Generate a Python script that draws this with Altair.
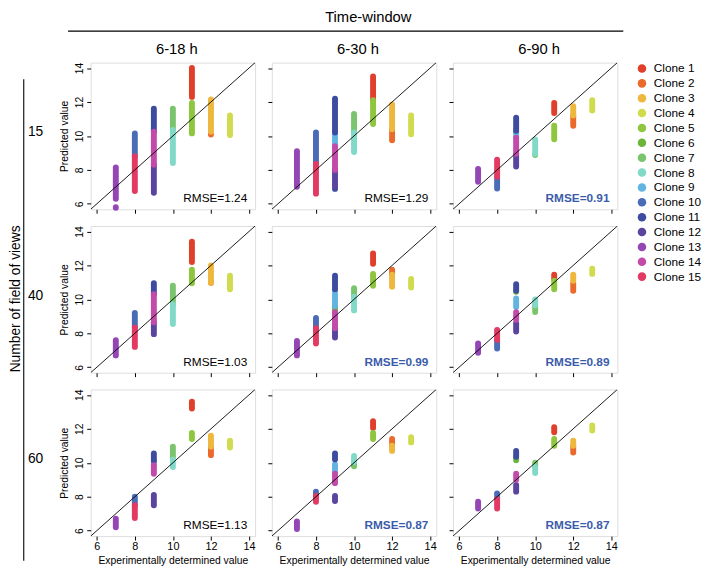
import altair as alt
import pandas as pd

# ---------------- data ----------------
CLONES = [f"Clone {i}" for i in range(1, 16)]
COLORS = ["#E03F2C", "#EA6A2C", "#EEB73E", "#D0DB4E", "#8EC63D", "#6CB53B", "#79C46C",
          "#82D9C8", "#61B5E0", "#4A6CB6", "#3E4CA0", "#5A44A0", "#9446B5", "#C24AA8", "#E23A63"]
EXPERIMENTAL = [11, 12, 12, 13, 11, 9, 10, 10, 9, 8, 9, 9, 7, 9, 8]
TIME_WINDOWS = ["6-18 h", "6-30 h", "6-90 h"]
FIELDS_OF_VIEW = ["15", "40", "60"]
TICKS = [6, 8, 10, 12, 14]
LIMITS = [5.68, 14.32]

# (clone number, lowest predicted value, highest predicted value)
FOV15_T18 = [(1, 12.3, 14.0), (2, 10.08, 10.12), (3, 10.25, 12.15), (4, 10.05, 11.2),
             (5, 10.15, 11.95), (7, 10.35, 11.6), (8, 8.4, 10.35), (10, 8.8, 10.15),
             (11, 10.25, 11.6), (12, 6.65, 8.3), (13, 6.3, 8.15), (13, 5.77, 5.8),
             (14, 8.3, 10.25), (15, 6.75, 8.8)]
FOV15_T30 = [(1, 12.1, 13.5), (2, 9.75, 10.4), (3, 10.4, 11.85), (4, 10.1, 11.2),
             (5, 10.7, 12.1), (7, 10.2, 11.3), (8, 9.05, 10.2), (9, 9.4, 10.2),
             (10, 8.35, 10.2), (11, 10.2, 12.2), (11, 6.88, 6.91), (12, 7.0, 8.0),
             (13, 7.0, 9.1), (14, 8.0, 9.4), (15, 6.6, 8.35)]
FOV15_T90 = [(1, 11.35, 11.95), (2, 10.6, 11.2), (3, 11.2, 11.75), (4, 11.5, 12.1),
             (5, 9.8, 10.6), (6, 10.22, 10.28), (7, 8.88, 8.92), (8, 8.95, 9.8),
             (9, 9.9, 10.25), (10, 6.9, 7.6), (11, 10.3, 11.07), (12, 8.2, 8.95),
             (13, 7.3, 8.05), (14, 8.95, 9.9), (15, 7.6, 8.6)]
FOV40_T18 = [(1, 12.2, 13.4), (2, 10.98, 11.02), (3, 10.97, 12.0), (4, 10.6, 11.4),
             (5, 10.95, 11.75), (7, 9.7, 10.8), (8, 8.55, 9.7), (10, 8.35, 9.2),
             (11, 10.3, 10.95), (12, 7.95, 8.65), (13, 6.7, 7.6), (14, 8.65, 10.3),
             (15, 7.2, 8.35)]
FOV40_T30 = [(1, 12.1, 12.7), (2, 11.45, 11.75), (3, 10.75, 11.45), (4, 10.7, 11.2),
             (5, 10.8, 11.5), (6, 9.35, 9.55), (7, 10.15, 10.65), (8, 9.35, 10.15),
             (9, 9.6, 10.5), (10, 8.3, 8.9), (11, 10.6, 11.4), (12, 7.75, 8.3),
             (13, 6.7, 7.55), (14, 8.3, 9.25), (15, 7.4, 8.3)]
FOV40_T90 = [(1, 11.2, 11.45), (2, 10.5, 10.95), (3, 11.1, 11.45), (4, 11.5, 11.8),
             (5, 10.6, 11.1), (6, 10.45, 10.5), (7, 9.25, 9.65), (8, 9.65, 10.0),
             (9, 9.55, 10.05), (10, 7.1, 7.6), (11, 10.5, 10.9), (12, 8.1, 8.6),
             (13, 6.85, 7.4), (14, 8.8, 9.25), (15, 7.6, 8.2)]
FOV60_T18 = [(1, 13.2, 13.6), (2, 10.45, 10.9), (3, 10.95, 11.6), (4, 10.9, 11.3),
             (5, 11.4, 11.75), (7, 10.3, 10.95), (8, 9.75, 10.2), (9, 9.9, 10.1),
             (10, 7.5, 8.0), (11, 10.1, 10.55), (12, 7.5, 8.1), (13, 6.2, 6.7),
             (14, 9.35, 9.85), (15, 6.75, 7.5)]
FOV60_T30 = [(1, 12.05, 12.45), (2, 11.0, 11.4), (3, 10.7, 11.0), (4, 11.2, 11.5),
             (5, 11.4, 11.75), (7, 9.8, 10.0), (8, 10.05, 10.4), (9, 9.45, 9.9),
             (10, 8.05, 8.3), (11, 10.2, 10.55), (12, 7.75, 8.05), (13, 6.1, 6.55),
             (14, 8.8, 9.35), (15, 7.7, 8.05)]
FOV60_T90 = [(1, 11.8, 12.1), (2, 10.6, 11.0), (3, 11.0, 11.3), (4, 11.9, 12.2),
             (5, 11.0, 11.4), (6, 10.15, 10.3), (7, 9.75, 10.0), (8, 9.4, 9.75),
             (10, 7.9, 8.2), (11, 10.35, 10.7), (12, 8.3, 8.7), (13, 7.3, 7.7),
             (14, 9.0, 9.35), (15, 7.3, 7.85)]

RMSE_FOV15 = ["1.24", "1.29", "0.91"]
RMSE_FOV40 = ["1.03", "0.99", "0.89"]
RMSE_FOV60 = ["1.13", "0.87", "0.87"]
BEST_FOV15 = [False, False, True]
BEST_FOV40 = [False, True, True]
BEST_FOV60 = [False, True, True]

PANELS = [[FOV15_T18, FOV15_T30, FOV15_T90],
          [FOV40_T18, FOV40_T30, FOV40_T90],
          [FOV60_T18, FOV60_T30, FOV60_T90]]
RMSE = [RMSE_FOV15, RMSE_FOV40, RMSE_FOV60]
BEST = [BEST_FOV15, BEST_FOV40, BEST_FOV60]

# ---------------- layout ----------------
W, H = 167, 149
GAP = 17
FONT = "Liberation Sans"
BLUE = "#3B5BAA"

color_scale = alt.Scale(domain=CLONES, range=COLORS)


def make_panel(r, c):
    segs = PANELS[r][c]
    df = pd.DataFrame([{"clone": CLONES[k - 1], "exp": EXPERIMENTAL[k - 1], "lo": lo, "hi": hi}
                       for k, lo, hi in segs])
    show_x = r == 2
    show_y = c == 0
    xs = alt.Scale(domain=LIMITS, nice=False, zero=False)
    ys = alt.Scale(domain=LIMITS, nice=False, zero=False)
    xaxis = alt.Axis(values=TICKS, labels=show_x, grid=False, domain=False, tickSize=4,
                     tickColor="black", labelColor="black", labelFontSize=11, labelPadding=1,
                     labelFont=FONT, titleFont=FONT, titleFontSize=10.5, titleFontWeight="normal",
                     titleColor="black", titlePadding=4,
                     title="Experimentally determined value" if show_x else None)
    yaxis = alt.Axis(values=TICKS, labels=show_y, grid=False, domain=False, tickSize=4,
                     tickColor="black", labelColor="black", labelFontSize=10.5, labelPadding=2,
                     labelAngle=270, labelFont=FONT, titleFont=FONT, titleFontSize=10.5,
                     titleFontWeight="normal", titleColor="black", titlePadding=6,
                     title="Predicted value" if show_y else None)
    strips = alt.Chart(df).mark_rule(strokeWidth=6, strokeCap="round").encode(
        x=alt.X("exp:Q", scale=xs, axis=xaxis),
        y=alt.Y("lo:Q", scale=ys, axis=yaxis),
        y2="hi:Q",
        color=alt.Color("clone:N", scale=color_scale, legend=None),
    )
    diag = alt.Chart(pd.DataFrame({"exp": LIMITS, "lo": LIMITS})).mark_line(
        color="black", strokeWidth=0.9, clip=True).encode(
        x=alt.X("exp:Q", scale=xs, axis=xaxis),
        y=alt.Y("lo:Q", scale=ys, axis=yaxis),
    )
    best = BEST[r][c]
    rmse = alt.Chart(pd.DataFrame({"t": ["RMSE=" + RMSE[r][c]]})).mark_text(
        align="right", baseline="middle", fontSize=12, font=FONT,
        fontWeight="bold" if best else "normal", color=BLUE if best else "black").encode(
        x=alt.value(W - 8), y=alt.value(H - 11), text="t:N")
    layers = [strips, diag, rmse]
    if r == 0:
        layers.append(alt.Chart(pd.DataFrame({"t": [TIME_WINDOWS[c]]})).mark_text(
            align="center", baseline="middle", fontSize=15, font=FONT, color="black").encode(
            x=alt.value(W / 2 + 4), y=alt.value(-14), text="t:N"))
    if c == 0:
        layers.append(alt.Chart(pd.DataFrame({"t": [FIELDS_OF_VIEW[r]]})).mark_text(
            align="center", baseline="middle", fontSize=14, font=FONT, color="black").encode(
            x=alt.value(-56), y=alt.value(71), text="t:N"))
    if r == 0 and c == 0:
        layers.append(alt.Chart(pd.DataFrame({"t": ["Time-window"]})).mark_text(
            align="center", baseline="middle", fontSize=15, font=FONT, color="black").encode(
            x=alt.value(282), y=alt.value(-46), text="t:N"))
        layers.append(alt.Chart(pd.DataFrame({"t": ["line"]})).mark_rule(
            color="black", strokeWidth=1.3).encode(
            x=alt.value(-23), x2=alt.value(541), y=alt.value(-32)))
        layers.append(alt.Chart(pd.DataFrame({"t": ["line"]})).mark_rule(
            color="black", strokeWidth=1.1).encode(
            x=alt.value(-68), y=alt.value(17), y2=alt.value(506)))
        layers.append(alt.Chart(pd.DataFrame({"t": ["Number of field of views"]})).mark_text(
            align="center", baseline="middle", fontSize=14, font=FONT, angle=270,
            color="black").encode(x=alt.value(-76), y=alt.value(240), text="t:N"))
    return alt.layer(*layers).properties(width=W, height=H)


legend_df = pd.DataFrame({"clone": CLONES})
legend_y = alt.Y("clone:N", sort=CLONES, axis=None,
                 scale=alt.Scale(range=[6, 6 + 15.1 * 14], padding=0))
legend_dots = alt.Chart(legend_df).mark_circle(size=75, opacity=1).encode(
    x=alt.value(8), y=legend_y, color=alt.Color("clone:N", scale=color_scale, legend=None))
legend_text = alt.Chart(legend_df).mark_text(
    align="left", baseline="middle", fontSize=12, font=FONT, color="black").encode(
    x=alt.value(20), y=legend_y, text="clone:N")
legend = alt.layer(legend_dots, legend_text).properties(
    width=60, height=H, view=alt.ViewBackground(stroke="transparent"))


def placeholder():
    return alt.Chart(pd.DataFrame({"t": [""]})).mark_text().encode(
        x=alt.value(0), y=alt.value(0), text="t:N").properties(
        width=60, height=H, view=alt.ViewBackground(stroke="transparent"))


items = []
for r in range(3):
    for c in range(3):
        items.append(make_panel(r, c))
    items.append(legend if r == 0 else placeholder())

chart = alt.concat(*items, columns=4, spacing=GAP, bounds="flush").properties(
    padding={"left": 0, "top": -3, "right": 2, "bottom": 2}
).configure_view(stroke="black", strokeWidth=1).configure(font=FONT)

chart.save("out.html", embed_options={"renderer": "svg", "actions": False})
